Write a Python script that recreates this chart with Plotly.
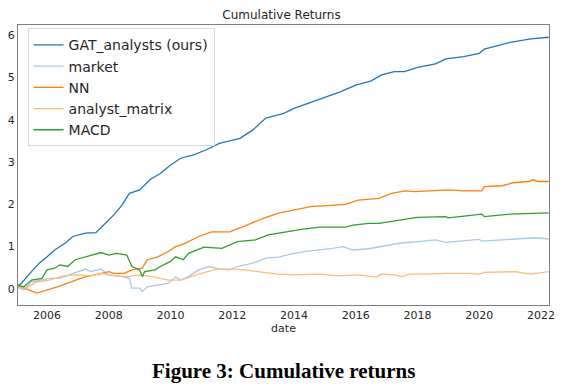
import plotly.graph_objects as go

gat_dates = ["2005-01","2005-03","2005-07","2005-10","2006-01","2006-04","2006-08","2006-11","2007-04","2007-08",
             "2007-11","2008-03","2008-06","2008-09","2009-01","2009-05","2009-09","2010-01","2010-05","2010-10",
             "2011-03","2011-08","2012-04","2012-09","2013-02","2013-07","2013-09","2014-01","2014-08","2015-02",
             "2015-07","2016-01","2016-07","2016-11","2017-04","2017-08","2018-01","2018-08","2018-12","2019-07",
             "2020-01","2020-03","2021-01","2021-09","2022-04"]
gat_vals = [0.05,0.13,0.41,0.61,0.76,0.92,1.08,1.24,1.32,1.33,
            1.51,1.75,1.97,2.26,2.34,2.58,2.73,2.93,3.09,3.17,
            3.29,3.44,3.56,3.76,4.04,4.12,4.15,4.27,4.43,4.55,
            4.66,4.82,4.92,5.06,5.14,5.14,5.24,5.32,5.44,5.49,
            5.57,5.67,5.83,5.91,5.95]

market_dates = ["2005-01","2005-04","2005-07","2005-10","2006-02","2006-06","2006-11","2007-04","2007-06","2007-10",
                "2008-01","2008-05","2008-09","2008-10","2009-01","2009-02","2009-04","2009-08","2009-12","2010-03",
                "2010-05","2010-08","2010-12","2011-04","2011-08","2011-12","2012-03","2012-09","2013-02","2013-07",
                "2013-12","2014-05","2014-11","2015-04","2015-08","2015-12","2016-06","2016-10","2017-06","2018-01",
                "2018-08","2018-12","2019-09","2020-01","2020-02","2021-01","2021-11","2022-04"]
market_vals = [0.05,-0.02,0.17,0.21,0.25,0.25,0.37,0.47,0.41,0.47,
               0.33,0.31,0.25,0.02,0.02,-0.06,0.05,0.09,0.13,0.28,
               0.21,0.29,0.45,0.53,0.47,0.45,0.53,0.61,0.73,0.75,
               0.83,0.88,0.92,0.96,1.00,0.92,0.95,0.99,1.08,1.12,
               1.16,1.10,1.14,1.17,1.13,1.17,1.21,1.18]

nn_dates = ["2005-01","2005-05","2005-09","2006-05","2006-12","2007-04","2007-08","2008-01","2008-03","2008-07",
            "2008-10","2009-02","2009-04","2009-08","2009-12","2010-03","2010-06","2010-12","2011-05","2011-12",
            "2012-06","2013-01","2013-07","2014-01","2014-08","2015-02","2015-09","2016-02","2016-10","2017-03",
            "2017-08","2017-12","2018-06","2019-01","2019-07","2020-02","2020-03","2020-10","2021-02","2021-08",
            "2021-10","2021-12","2022-04"]
nn_vals = [0.09,0.00,-0.10,0.05,0.21,0.29,0.33,0.41,0.37,0.37,
           0.45,0.49,0.69,0.76,0.88,1.00,1.06,1.24,1.35,1.35,
           1.49,1.67,1.79,1.87,1.95,1.97,2.00,2.10,2.14,2.26,
           2.32,2.30,2.32,2.34,2.32,2.32,2.42,2.44,2.51,2.54,
           2.58,2.54,2.54]

am_dates = ["2005-01","2005-05","2005-09","2006-02","2006-07","2007-01","2007-06","2007-10","2008-03","2008-08",
            "2009-01","2009-06","2009-12","2010-05","2010-12","2011-07","2012-01","2012-06","2013-01","2013-07",
            "2014-01","2014-11","2015-06","2016-02","2016-09","2016-11","2017-04","2017-07","2017-10","2018-04",
            "2018-12","2019-09","2020-01","2020-03","2021-03","2021-09","2022-04"]
am_vals = [0.05,0.02,0.17,0.21,0.31,0.33,0.31,0.37,0.31,0.29,
           0.33,0.29,0.21,0.21,0.35,0.47,0.47,0.45,0.39,0.35,
           0.33,0.35,0.31,0.33,0.28,0.35,0.33,0.29,0.35,0.35,
           0.37,0.37,0.35,0.39,0.41,0.35,0.41]

macd_dates = ["2005-01","2005-04","2005-07","2005-11","2006-01","2006-04","2006-06","2006-09","2006-12","2007-04",
              "2007-07","2007-10","2008-01","2008-04","2008-08","2008-10","2009-01","2009-02","2009-03","2009-07",
              "2009-09","2010-01","2010-03","2010-06","2010-08","2011-02","2011-09","2012-03","2012-10","2013-03",
              "2013-10","2014-04","2014-11","2015-05","2015-09","2015-12","2016-06","2016-10","2017-06","2018-01",
              "2018-12","2019-01","2020-02","2020-03","2021-01","2022-04"]
macd_vals = [0.09,0.05,0.21,0.25,0.45,0.49,0.57,0.53,0.69,0.76,
             0.80,0.86,0.80,0.84,0.80,0.53,0.45,0.29,0.41,0.45,
             0.53,0.65,0.76,0.69,0.84,0.99,0.96,1.12,1.16,1.28,
             1.35,1.41,1.46,1.47,1.46,1.51,1.55,1.55,1.63,1.69,
             1.71,1.68,1.77,1.71,1.77,1.80]

series = [
    ("GAT_analysts (ours)", gat_dates, gat_vals, "#1f77b4"),
    ("market", market_dates, market_vals, "#aec7e8"),
    ("NN", nn_dates, nn_vals, "#ff7f0e"),
    ("analyst_matrix", am_dates, am_vals, "#ffbb78"),
    ("MACD", macd_dates, macd_vals, "#2ca02c"),
]

fig = go.Figure()
for name, d, v, c in series:
    fig.add_trace(go.Scatter(x=d, y=v, mode="lines", name=name,
                             line=dict(color=c, width=1.3)))

axis_common = dict(showline=True, linecolor="#808080", linewidth=1, mirror=True,
                   showgrid=False, zeroline=False, ticks="", automargin=False,
                   tickfont=dict(family="DejaVu Sans", size=11, color="#262626"))

fig.update_layout(
    width=563, height=387,
    margin=dict(l=18, r=14, t=25, b=82),
    paper_bgcolor="white", plot_bgcolor="white",
    font=dict(family="DejaVu Sans", color="#262626"),
    title=dict(text="Cumulative Returns", x=0.5, xanchor="center", y=0.962, yanchor="middle",
               font=dict(family="DejaVu Sans", size=12, color="#262626")),
    xaxis=dict(type="date", range=["2005-01-22", "2022-04-05"], tick0="2006-01-01", dtick="M24",
               tickformat="%Y", title=dict(text="date", standoff=0,
               font=dict(family="DejaVu Sans", size=11, color="#262626")), **axis_common),
    yaxis=dict(range=[-0.38, 6.24], tickvals=[0, 1, 2, 3, 4, 5, 6], **axis_common),
    legend=dict(x=0.018, y=0.988, xanchor="left", yanchor="top",
                bgcolor="rgba(255,255,255,0.85)", bordercolor="#d9d9d9", borderwidth=1,
                font=dict(family="DejaVu Sans", size=14, color="#262626")),
    showlegend=True,
)

fig.add_annotation(text="<b>Figure 3: Cumulative returns</b>", xref="paper", yref="paper",
                   x=0.5, y=-0.235, xanchor="center", yanchor="middle", showarrow=False,
                   font=dict(family="Liberation Serif", size=21, color="black"))

fig.write_html("out.html", config={"displayModeBar": False},
               post_script="document.body.style.margin='0';")
